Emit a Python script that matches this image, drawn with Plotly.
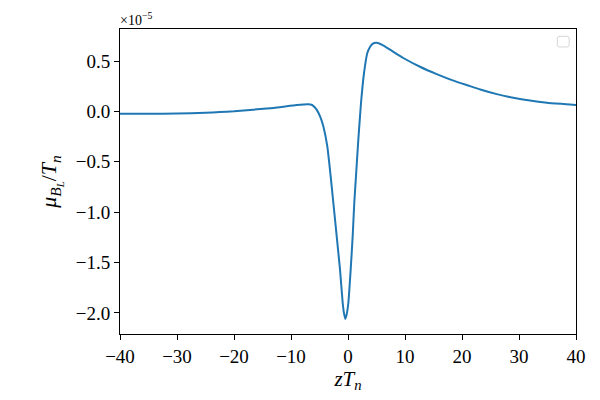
import plotly.graph_objects as go

# Data (y in units of 1e-5)
zTn = [-40, -35, -30, -25, -22.5, -20, -16.6, -13, -10.8, -9, -7.0, -6.3, -5.8, -5.5,
       -4.9, -4.33, -3.63, -3.04, -2.57, -1.98, -1.40, -0.93, -0.7, -0.47, -0.25,
       0.06, 0.47, 0.82, 1.10, 1.40, 1.81, 2.28, 2.81, 3.39, 3.86, 4.3, 5.03, 6.0,
       7.37, 9.70, 12.63, 15.56, 18.5, 21.4, 23.2, 26.1, 29.0, 31.9, 34.9, 37.8, 40]
mu_scaled = [-0.022, -0.022, -0.021, -0.013, -0.006, 0.002, 0.018, 0.035, 0.051, 0.063,
             0.071, 0.064, 0.040, 0.018, -0.049, -0.148, -0.347, -0.644, -0.909, -1.240,
             -1.571, -1.902, -2.005, -2.060, -2.020, -1.902, -1.571, -1.240, -0.909,
             -0.644, -0.280, 0.084, 0.382, 0.581, 0.640, 0.672, 0.682, 0.661,
             0.614, 0.531, 0.444, 0.371, 0.306, 0.252, 0.218, 0.172, 0.136, 0.108,
             0.087, 0.074, 0.064]

x_ticks = [-40, -30, -20, -10, 0, 10, 20, 30, 40]
y_ticks = [-2.0, -1.5, -1.0, -0.5, 0.0, 0.5]
y_ticktext = [("\u2212" if v < 0 else "") + f"{abs(v):.1f}" for v in y_ticks]
x_ticktext = [("\u2212" if v < 0 else "") + str(abs(v)) for v in x_ticks]

FONT = "Liberation Serif"

fig = go.Figure()
fig.add_trace(go.Scatter(x=zTn, y=mu_scaled, mode="lines",
                         line=dict(color="#1f77b4", width=2, shape="spline", smoothing=0.4),
                         showlegend=False))

axis_common = dict(showline=True, linecolor="black", linewidth=1.1, mirror=True,
                   ticks="outside", ticklen=5, tickwidth=1.1, tickcolor="black",
                   showgrid=False, zeroline=False,
                   tickfont=dict(family=FONT, size=19, color="black"))

fig.update_xaxes(range=[-40, 40], tickvals=x_ticks, ticktext=x_ticktext,
                 title=dict(text="<i>zT</i><sub><i>n</i></sub>",
                            font=dict(family=FONT, size=21, color="black"), standoff=4),
                 **axis_common)
fig.update_yaxes(range=[-2.210, 0.819], tickvals=y_ticks, ticktext=y_ticktext,
                 title=dict(text="<i>μ</i><sub><i>B</i><sub><i>L</i></sub></sub>/<i>T</i><sub><i>n</i></sub>",
                            font=dict(family=FONT, size=22, color="black"), standoff=12),
                 **axis_common)

# empty legend frame (top right) as in the reference
x0, x1, y0, y1, r = 0.959, 0.985, 0.941, 0.976, 0.006
path = (f"M {x0+r},{y0} L {x1-r},{y0} Q {x1},{y0} {x1},{y0+r} L {x1},{y1-r} "
        f"Q {x1},{y1} {x1-r},{y1} L {x0+r},{y1} Q {x0},{y1} {x0},{y1-r} "
        f"L {x0},{y0+r} Q {x0},{y0} {x0+r},{y0} Z")
fig.add_shape(type="path", path=path, xref="paper", yref="paper",
              line=dict(color="#d5d5d5", width=1), fillcolor="white")

fig.add_annotation(text="\u00d710<sup>\u22125</sup>", xref="paper", yref="paper",
                   x=0, y=1, xanchor="left", yanchor="bottom", showarrow=False,
                   font=dict(family=FONT, size=14, color="black"), xshift=-2, yshift=-1)

# page body has an 8px margin, so the figure is sized to fit the 600x400 window
fig.update_layout(width=592, height=392, margin=dict(l=112, r=24, t=21, b=66),
                  paper_bgcolor="white", plot_bgcolor="white")

fig.write_html("out.html")
